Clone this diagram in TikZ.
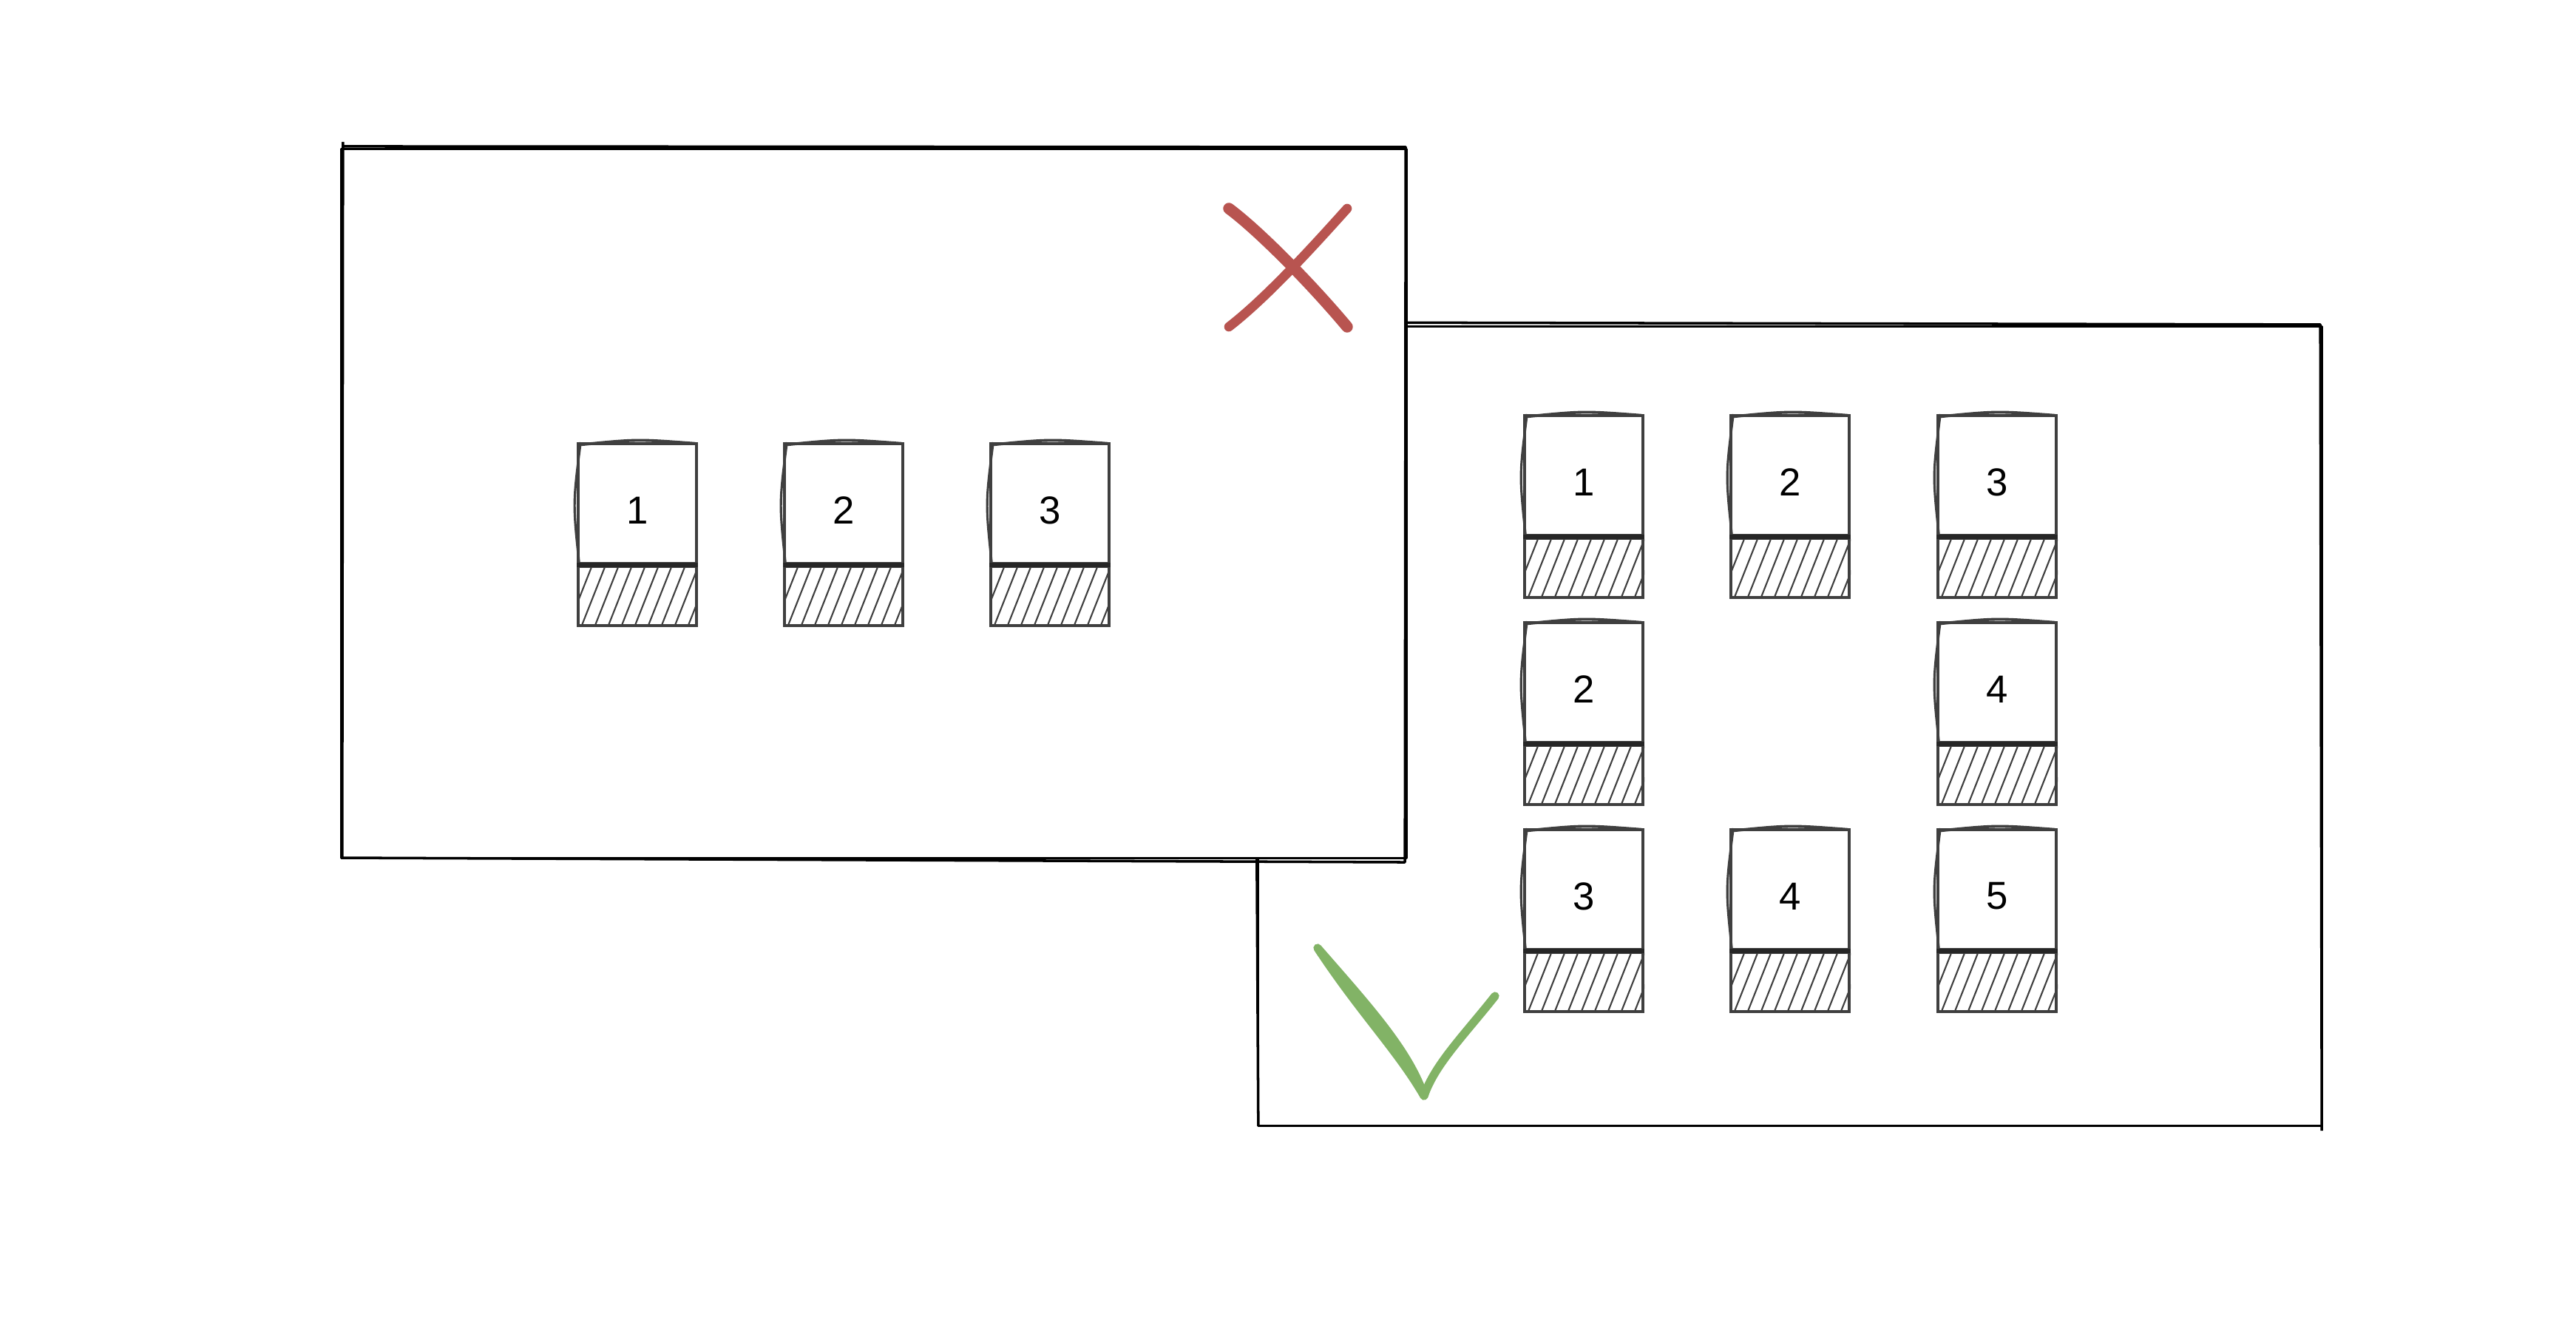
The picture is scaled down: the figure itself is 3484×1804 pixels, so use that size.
\documentclass[tikz,border=0pt]{standalone}
\usepackage{fontspec}
\setmainfont{Liberation Sans}
\definecolor{cardgray}{HTML}{3F3F3F}
\definecolor{xred}{HTML}{B85450}
\definecolor{okgreen}{HTML}{82B366}
\newcommand\mycard[4]{%
  \node[cardtop] (#1) at (#2+80,#3+81) {};
  \node[cardlabel] (#1t) at ([yshift=-0.09cm]#1.center) {#4};
  \node[hatchbox, anchor=north] (#1h) at (#1.south) {};
  \begin{scope}
    \clip (#1h.south west) rectangle (#1h.north east);
    \foreach \i in {-30,-12,...,170} {
      \draw[hatchline] ([xshift=\i*0.01cm]#1h.south west) -- ++(32,-81);
    }
  \end{scope}
  \draw[cardgray, line width=1.1pt] ([xshift=1pt,yshift=-1pt]#1.north west) .. controls ([yshift=1.2pt]#1.north) .. ([xshift=-1pt,yshift=-0.5pt]#1.north east);
  \draw[cardgray, line width=0.9pt] ([xshift=1.5pt]#1.north west) .. controls ([xshift=-1.5pt]#1.west) .. ([xshift=1pt]#1.south west);
  \draw[black!85, line width=1.5pt] (#1.south west) -- (#1.south east);
}
\begin{document}
\begin{tikzpicture}[x=0.01cm,y=-0.01cm,
  frame/.style={draw=black, line width=1pt, line join=round},
  cardtop/.style={draw=cardgray, line width=1.1pt, minimum width=1.6cm, minimum height=1.62cm, inner sep=0pt, fill=white},
  cardlabel/.style={inner sep=0pt, font=\fontsize{15}{15}\selectfont, text=black},
  hatchbox/.style={draw=cardgray, line width=1.1pt, minimum width=1.6cm, minimum height=0.8cm, inner sep=0pt},
  hatchline/.style={cardgray, line width=0.6pt},
  penstroke/.style={line width=3.6pt, line cap=round, line join=round}
]
\useasboundingbox (0,0) rectangle (3484,1804);
% right frame (behind)
\node[frame, minimum width=14.38cm, minimum height=10.8cm, inner sep=0pt] (right) at (2421,982) {};
\draw[frame] ([shift={(3,-4)}]right.north west) -- ([shift={(-4,-1)}]right.north east) -- ([shift={(-2,5)}]right.south east);
\draw[frame] ([shift={(-4,3)}]right.north west) -- ([shift={(2,-3)}]right.south west);
% left frame (front)
\node[frame, fill=white, minimum width=14.4cm, minimum height=9.58cm, inner sep=0pt] (left) at (1182,681) {};
\draw[frame] ([shift={(4,-2)}]left.north west) -- ([shift={(-3,-1)}]left.north east) -- ([shift={(-4,4)}]left.south east) -- ([shift={(3,-2)}]left.south west) -- ([shift={(4,-8)}]left.north west);
% left cards
\mycard{la}{782}{600}{1}
\mycard{lb}{1061}{600}{2}
\mycard{lc}{1340}{600}{3}
% right cards
\mycard{ra}{2062}{562}{1}
\mycard{rb}{2341}{562}{2}
\mycard{rc}{2621}{562}{3}
\mycard{rd}{2062}{842}{2}
\mycard{re}{2621}{842}{4}
\mycard{rf}{2062}{1122}{3}
\mycard{rg}{2341}{1122}{4}
\mycard{rh}{2621}{1122}{5}
% cross
\coordinate (x1) at (1662,282);
\coordinate (x2) at (1822,442);
\coordinate (x3) at (1822,282);
\coordinate (x4) at (1662,442);
\draw[penstroke, xred, line width=4.4pt] (x1) .. controls (1700,310) and (1770,380) .. (x2);
\draw[penstroke, xred] (x4) .. controls (1710,405) and (1770,340) .. (x3);
% check
\coordinate (c1) at (1782,1282);
\coordinate (c2) at (1926,1482);
\coordinate (c3) at (2022,1347);
\draw[penstroke, okgreen, line width=3.2pt] (c1) .. controls (1840,1370) and (1890,1420) .. (c2)
  .. controls (1905,1420) and (1850,1360) .. (c1);
\draw[penstroke, okgreen, line width=3.2pt] (c2) .. controls (1940,1440) and (1980,1400) .. (c3);
\end{tikzpicture}
\end{document}
